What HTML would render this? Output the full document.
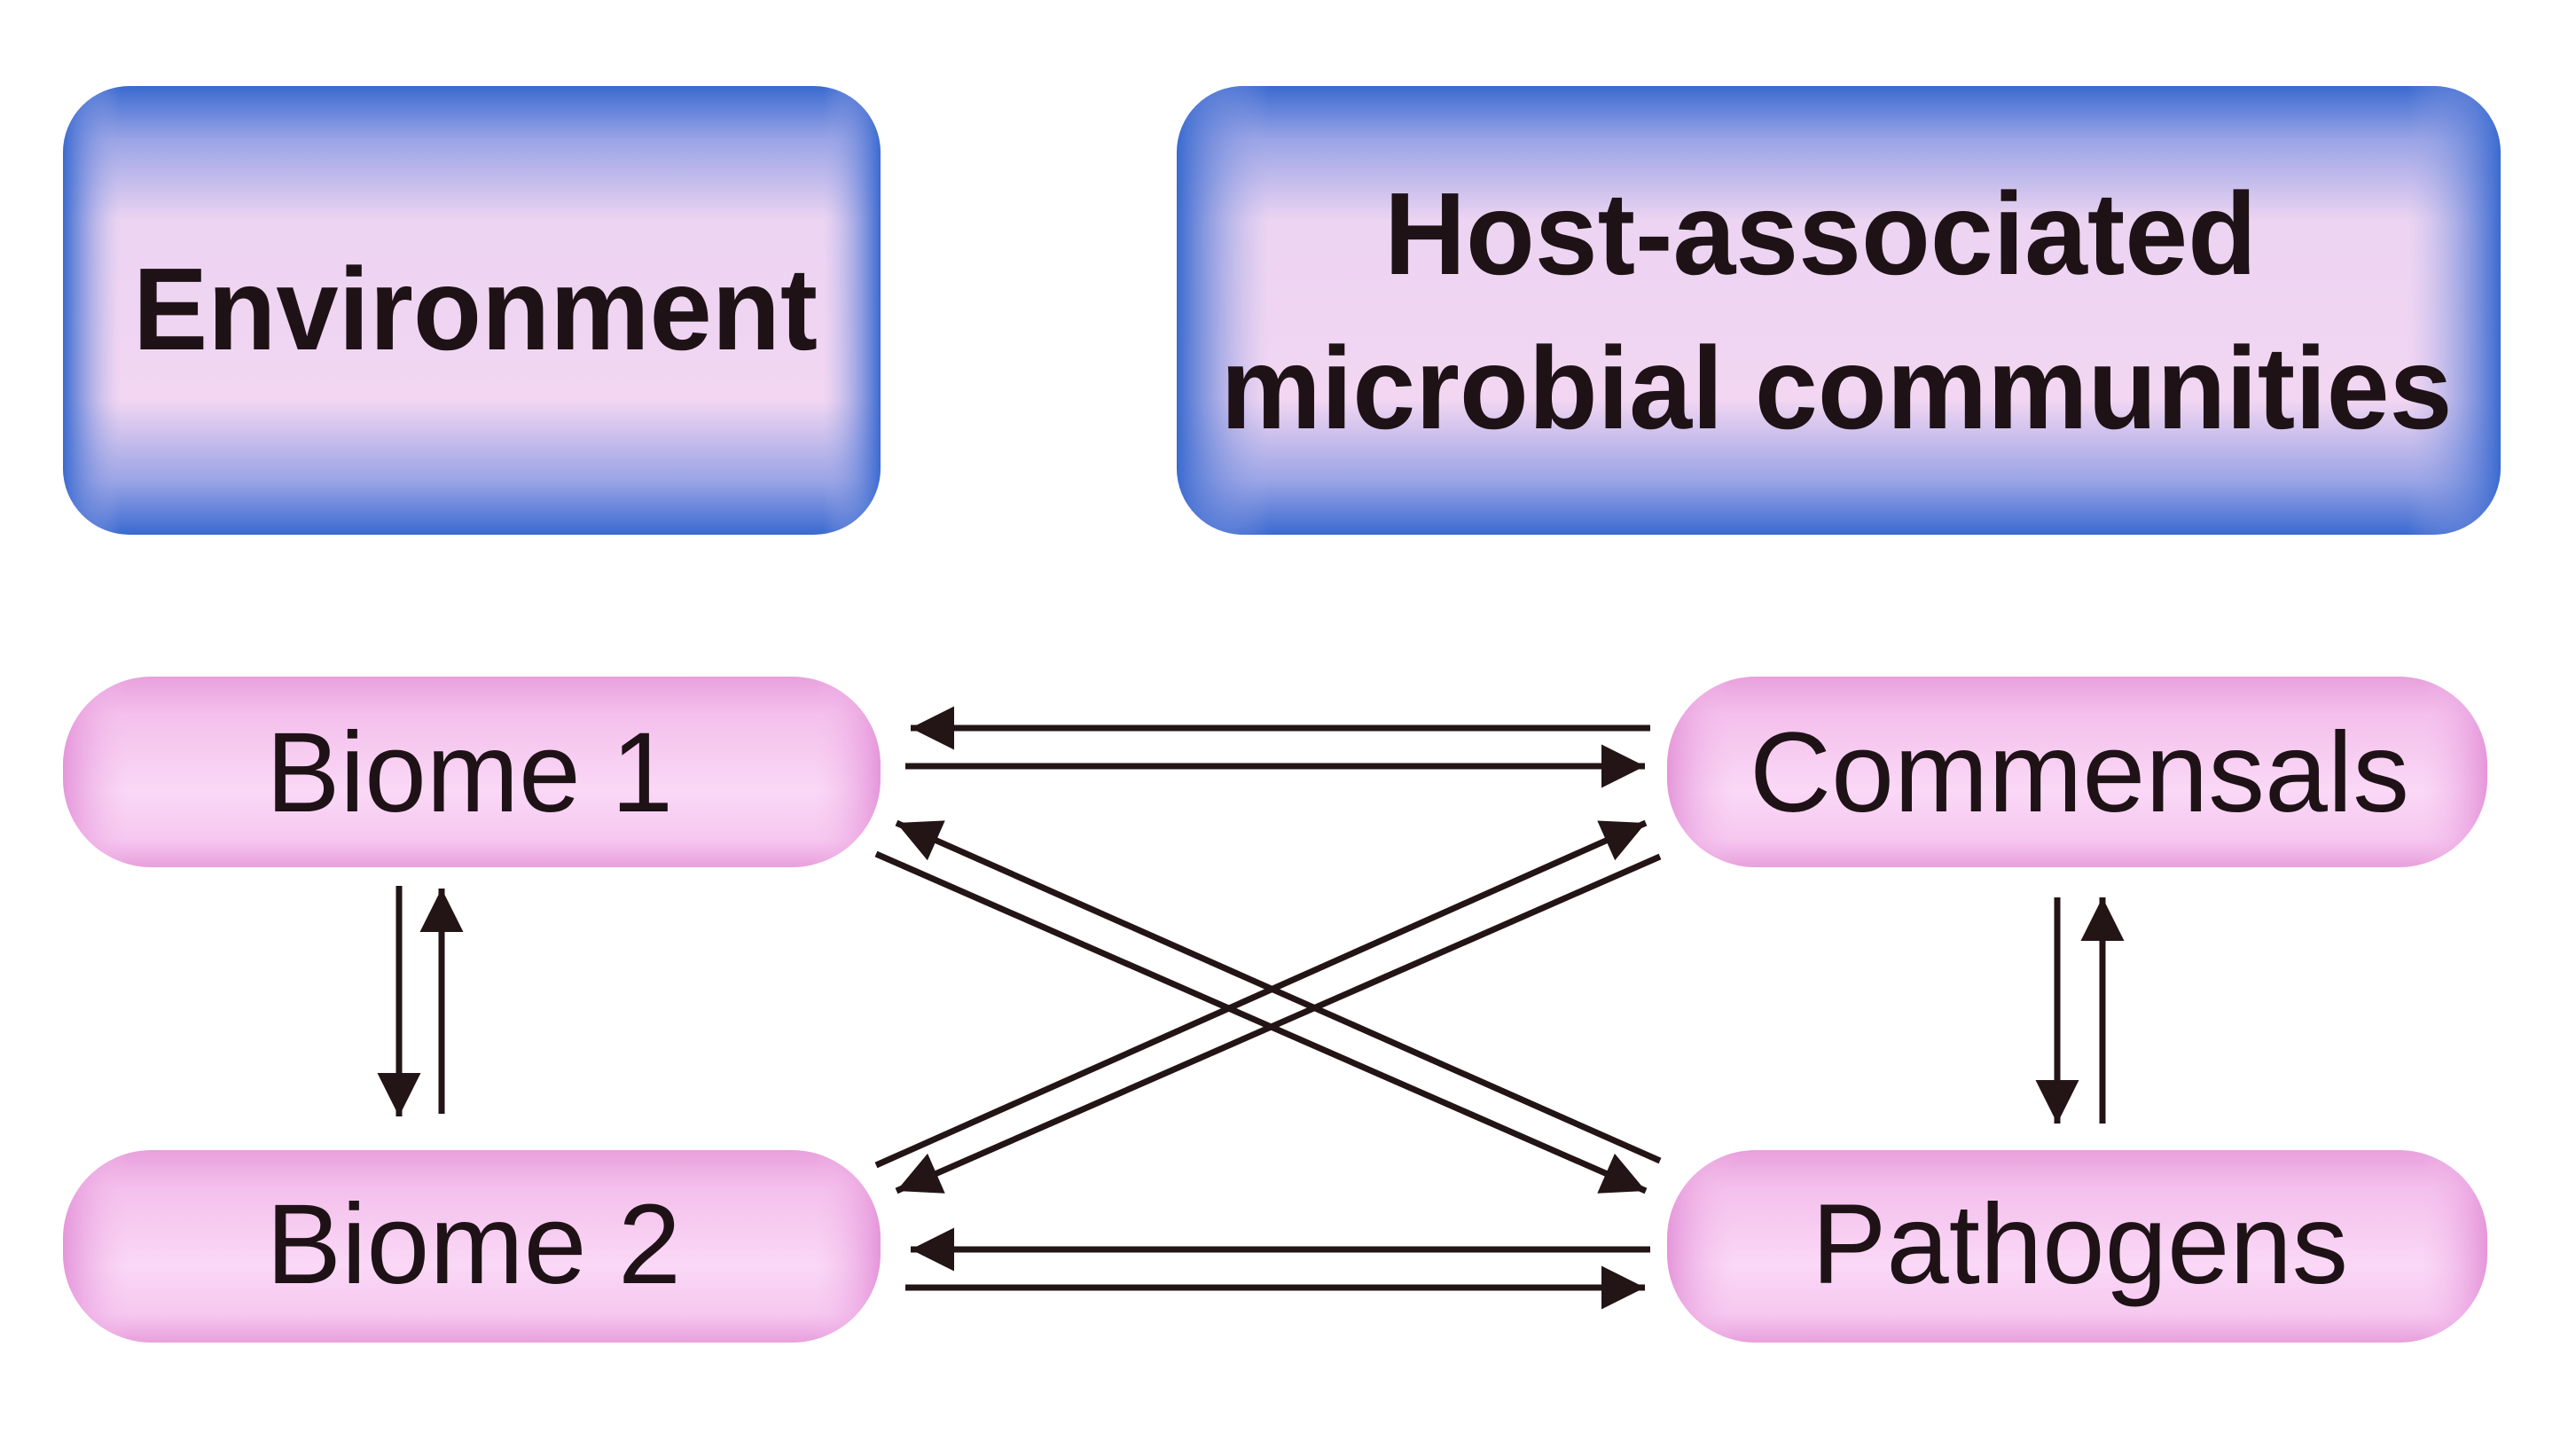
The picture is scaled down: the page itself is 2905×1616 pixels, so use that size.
<!DOCTYPE html>
<html><head><meta charset="utf-8"><style>
html,body{margin:0;padding:0;background:#fff;}
svg{display:block;}
</style></head><body>
<svg width="2905" height="1616" viewBox="0 0 2905 1616" xmlns="http://www.w3.org/2000/svg">
<defs>
<radialGradient id="bl" cx="50%" cy="50%" r="70%">
<stop offset="0" stop-color="#f4d8f2"/><stop offset="0.55" stop-color="#f0d4f2"/><stop offset="0.75" stop-color="#b8a8e8"/><stop offset="0.9" stop-color="#5a80dc"/><stop offset="1" stop-color="#2f62cc"/>
</radialGradient>
<linearGradient id="blv" x1="0" y1="0" x2="0" y2="1">
<stop offset="0" stop-color="#3a6ad0"/><stop offset="0.12" stop-color="#9aa4e6"/><stop offset="0.3" stop-color="#ecd4f2"/><stop offset="0.7" stop-color="#f2d6f2"/><stop offset="0.88" stop-color="#9aa4e6"/><stop offset="1" stop-color="#3a6ad0"/>
</linearGradient>
<linearGradient id="blh" x1="0" y1="0" x2="1" y2="0">
<stop offset="0" stop-color="#3a6ad0" stop-opacity="1"/><stop offset="0.07" stop-color="#a8aee8" stop-opacity="0"/><stop offset="0.93" stop-color="#a8aee8" stop-opacity="0"/><stop offset="1" stop-color="#3a6ad0" stop-opacity="1"/>
</linearGradient>
<linearGradient id="pk" x1="0" y1="0" x2="0" y2="1">
<stop offset="0" stop-color="#e8a0dc"/><stop offset="0.2" stop-color="#f4c0ec"/><stop offset="0.6" stop-color="#fad8f6"/><stop offset="0.85" stop-color="#f6c8f0"/><stop offset="1" stop-color="#e8a0dc"/>
</linearGradient>
<linearGradient id="pkh" x1="0" y1="0" x2="1" y2="0">
<stop offset="0" stop-color="#e596da" stop-opacity="1"/><stop offset="0.08" stop-color="#f4c0ec" stop-opacity="0"/><stop offset="0.92" stop-color="#f4c0ec" stop-opacity="0"/><stop offset="1" stop-color="#e596da" stop-opacity="1"/>
</linearGradient>
<marker id="ah" viewBox="0 0 10 10" refX="10" refY="5" markerWidth="7.5" markerHeight="7" markerUnits="strokeWidth" orient="auto">
<path d="M0,0 L10,5 L0,10 z" fill="#231416"/>
</marker>
</defs>

<!-- top boxes -->
<rect x="71" y="97" width="922" height="506" rx="75" fill="url(#blv)"/>
<rect x="71" y="97" width="922" height="506" rx="75" fill="url(#blh)"/>
<rect x="1327" y="97" width="1493" height="506" rx="75" fill="url(#blv)"/>
<rect x="1327" y="97" width="1493" height="506" rx="75" fill="url(#blh)"/>

<g font-family="Liberation Sans, Arial, sans-serif" fill="#1e1216">
<text x="536" y="394" font-size="132" font-weight="bold" text-anchor="middle" textLength="772" lengthAdjust="spacingAndGlyphs">Environment</text>
<text x="2053" y="309" font-size="132" font-weight="bold" text-anchor="middle" textLength="984" lengthAdjust="spacingAndGlyphs">Host-associated</text>
<text x="2071" y="483" font-size="132" font-weight="bold" text-anchor="middle" textLength="1389" lengthAdjust="spacingAndGlyphs">microbial communities</text>
</g>

<!-- pills -->
<g>
<rect x="71" y="763" width="922" height="215" rx="100" fill="url(#pk)"/>
<rect x="71" y="763" width="922" height="215" rx="100" fill="url(#pkh)"/>
<rect x="1880" y="763" width="925" height="215" rx="100" fill="url(#pk)"/>
<rect x="1880" y="763" width="925" height="215" rx="100" fill="url(#pkh)"/>
<rect x="71" y="1297" width="922" height="217" rx="100" fill="url(#pk)"/>
<rect x="71" y="1297" width="922" height="217" rx="100" fill="url(#pkh)"/>
<rect x="1880" y="1297" width="925" height="217" rx="100" fill="url(#pk)"/>
<rect x="1880" y="1297" width="925" height="217" rx="100" fill="url(#pkh)"/>
</g>
<g font-family="Liberation Sans, Arial, sans-serif" fill="#1e1216" font-size="128">
<text x="300" y="915" textLength="459" lengthAdjust="spacingAndGlyphs">Biome 1</text>
<text x="1973" y="915" textLength="744" lengthAdjust="spacingAndGlyphs">Commensals</text>
<text x="300" y="1447" textLength="468" lengthAdjust="spacingAndGlyphs">Biome 2</text>
<text x="2043" y="1447" textLength="605" lengthAdjust="spacingAndGlyphs">Pathogens</text>
</g>

<!-- arrows -->
<g stroke="#231416" stroke-width="7" fill="none" marker-end="url(#ah)">
<line x1="1861" y1="821" x2="1027" y2="821"/>
<line x1="1021" y1="864" x2="1855" y2="864"/>
<line x1="1861" y1="1409" x2="1027" y2="1409"/>
<line x1="1021" y1="1452" x2="1855" y2="1452"/>
<line x1="450" y1="999" x2="450" y2="1259"/>
<line x1="498" y1="1256" x2="498" y2="1002"/>
<line x1="2320" y1="1012" x2="2320" y2="1267"/>
<line x1="2371" y1="1267" x2="2371" y2="1012"/>
<line x1="1872" y1="1309" x2="1011" y2="928"/>
<line x1="988" y1="963" x2="1856" y2="1343"/>
<line x1="988" y1="1314" x2="1856" y2="928"/>
<line x1="1872" y1="966" x2="1011" y2="1343"/>
</g>
</svg>
</body></html>
